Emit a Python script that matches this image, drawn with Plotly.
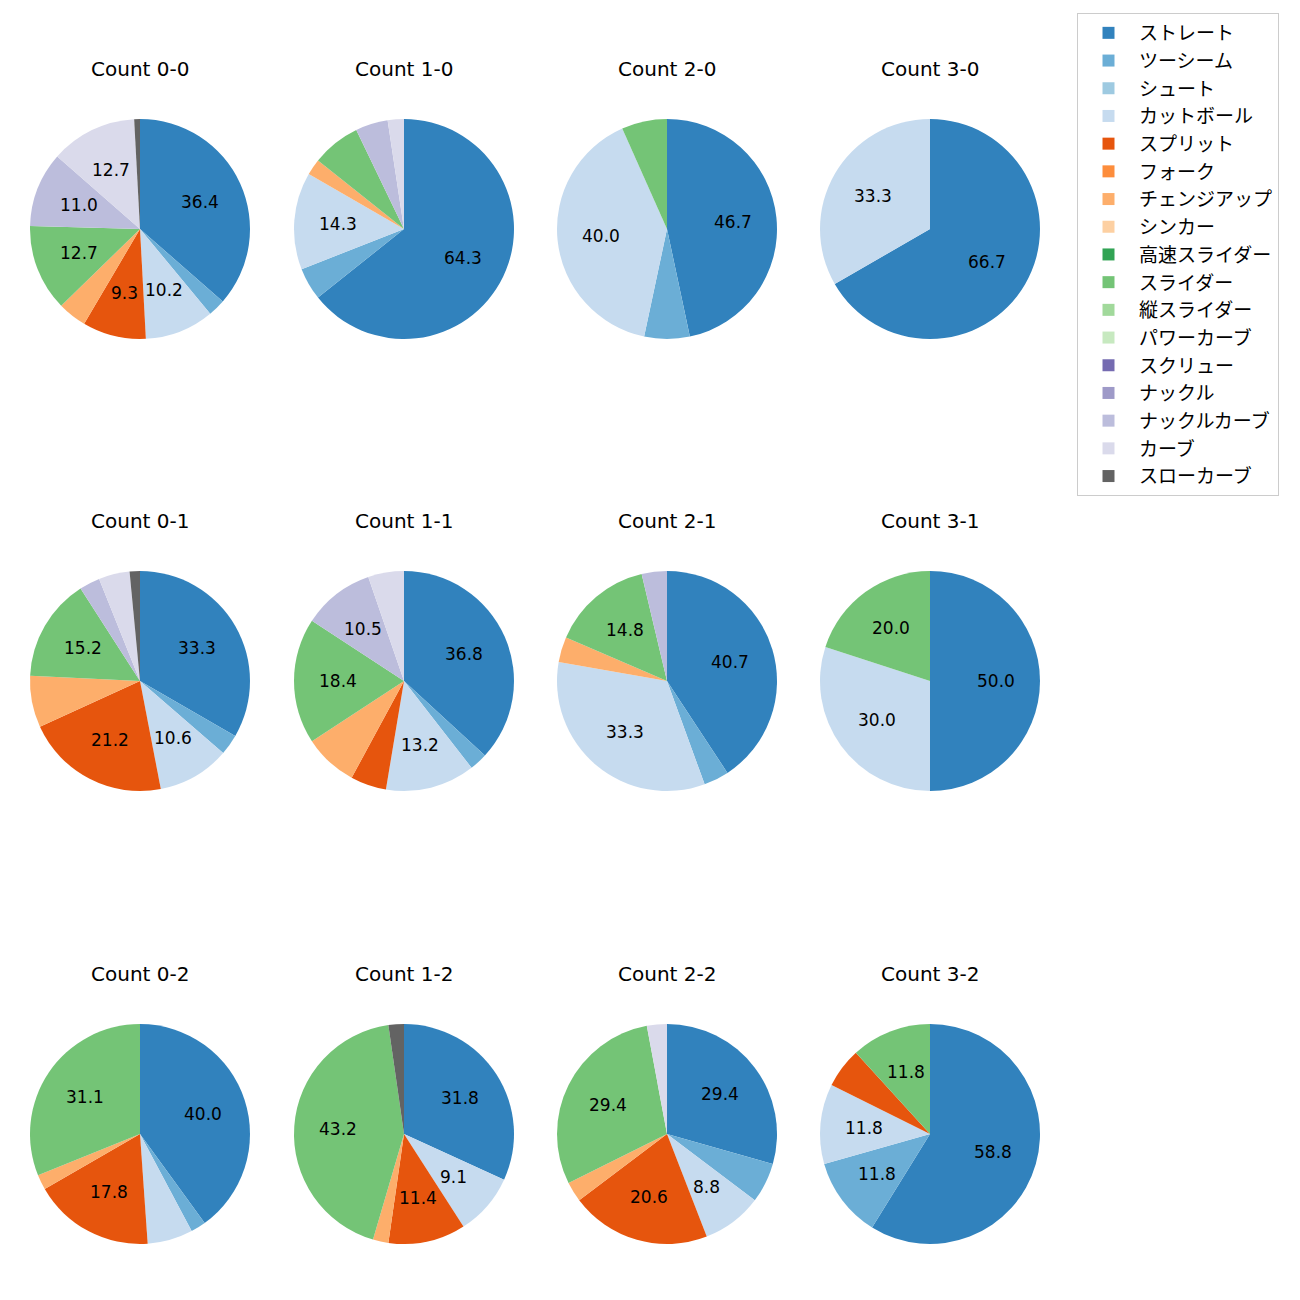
import math
import plotly.graph_objects as go

pitch_types = ["ストレート", "ツーシーム", "シュート", "カットボール", "スプリット", "フォーク",
               "チェンジアップ", "シンカー", "高速スライダー", "スライダー", "縦スライダー",
               "パワーカーブ", "スクリュー", "ナックル", "ナックルカーブ", "カーブ", "スローカーブ"]
colors = ["#3182bd", "#6baed6", "#9ecae1", "#c6dbef", "#e6550d", "#fd8d3c", "#fdae6b", "#fdd0a2",
          "#31a354", "#74c476", "#a1d99b", "#c7e9c0", "#756bb1", "#9e9ac8", "#bcbddc", "#dadaeb",
          "#636363"]

# pitch counts per ball-strike count (order follows pitch_types)
count_0_0 = [43, 3, 0, 12, 11, 0, 5, 0, 0, 15, 0, 0, 0, 0, 13, 15, 1]
count_1_0 = [27, 2, 0, 6, 0, 0, 1, 0, 0, 3, 0, 0, 0, 0, 2, 1, 0]
count_2_0 = [7, 1, 0, 6, 0, 0, 0, 0, 0, 1, 0, 0, 0, 0, 0, 0, 0]
count_3_0 = [2, 0, 0, 1, 0, 0, 0, 0, 0, 0, 0, 0, 0, 0, 0, 0, 0]
count_0_1 = [22, 2, 0, 7, 14, 0, 5, 0, 0, 10, 0, 0, 0, 0, 2, 3, 1]
count_1_1 = [14, 1, 0, 5, 2, 0, 3, 0, 0, 7, 0, 0, 0, 0, 4, 2, 0]
count_2_1 = [11, 1, 0, 9, 0, 0, 1, 0, 0, 4, 0, 0, 0, 0, 1, 0, 0]
count_3_1 = [5, 0, 0, 3, 0, 0, 0, 0, 0, 2, 0, 0, 0, 0, 0, 0, 0]
count_0_2 = [18, 1, 0, 3, 8, 0, 1, 0, 0, 14, 0, 0, 0, 0, 0, 0, 0]
count_1_2 = [14, 0, 0, 4, 5, 0, 1, 0, 0, 19, 0, 0, 0, 0, 0, 0, 1]
count_2_2 = [10, 2, 0, 3, 7, 0, 1, 0, 0, 10, 0, 0, 0, 0, 0, 1, 0]
count_3_2 = [10, 2, 0, 2, 1, 0, 0, 0, 0, 2, 0, 0, 0, 0, 0, 0, 0]

panels = [
    ("Count 0-0", count_0_0), ("Count 1-0", count_1_0), ("Count 2-0", count_2_0), ("Count 3-0", count_3_0),
    ("Count 0-1", count_0_1), ("Count 1-1", count_1_1), ("Count 2-1", count_2_1), ("Count 3-1", count_3_1),
    ("Count 0-2", count_0_2), ("Count 1-2", count_1_2), ("Count 2-2", count_2_2), ("Count 3-2", count_3_2),
]

W = H = 1300
col_cx = [140, 404, 667, 930]
row_cy = [229, 681, 1134]
R = 110
LATIN = "DejaVu Sans, Noto Sans CJK JP"
CJK = "Noto Sans CJK JP"

fig = go.Figure()
annotations = []
for i, (title, vals) in enumerate(panels):
    r, c = divmod(i, 4)
    cx, cy = col_cx[c], row_cy[r]
    fig.add_trace(go.Pie(
        labels=pitch_types, values=vals, sort=False, direction="clockwise", rotation=0,
        marker=dict(colors=colors, line=dict(width=0)),
        textinfo="none", hoverinfo="label+percent",
        domain=dict(x=[(cx - R) / W, (cx + R) / W], y=[1 - (cy + R) / H, 1 - (cy - R) / H]),
        showlegend=(i == 0), name=title,
    ))
    annotations.append(dict(text=title, x=cx / W, y=1 - (cy - 160) / H, xref="paper", yref="paper",
                            showarrow=False, xanchor="center", yanchor="middle",
                            font=dict(size=20, color="black", family=LATIN)))
    total = sum(vals)
    cum = 0
    for v in vals:
        if v > 0:
            pct = 100 * v / total
            if pct >= 8:
                th = 2 * math.pi * (cum + v / 2) / total
                px = cx + 0.6 * R * math.sin(th)
                py = cy - 0.6 * R * math.cos(th)
                annotations.append(dict(text=f"{pct:.1f}", x=px / W, y=1 - py / H, xref="paper", yref="paper",
                                        showarrow=False, xanchor="center", yanchor="middle",
                                        font=dict(size=17, color="black", family=LATIN)))
        cum += v

fig.update_layout(
    width=W, height=H, margin=dict(l=0, r=0, t=0, b=0),
    paper_bgcolor="white", plot_bgcolor="white",
    font=dict(family=LATIN, size=17, color="black"),
    annotations=annotations,
    legend=dict(x=1077 / W, y=1 - 13 / H, xanchor="left", yanchor="top",
                bordercolor="#cccccc", borderwidth=1, bgcolor="white", itemwidth=51,
                font=dict(size=19, family=CJK), traceorder="normal"),
)
fig.write_html("out.html")
